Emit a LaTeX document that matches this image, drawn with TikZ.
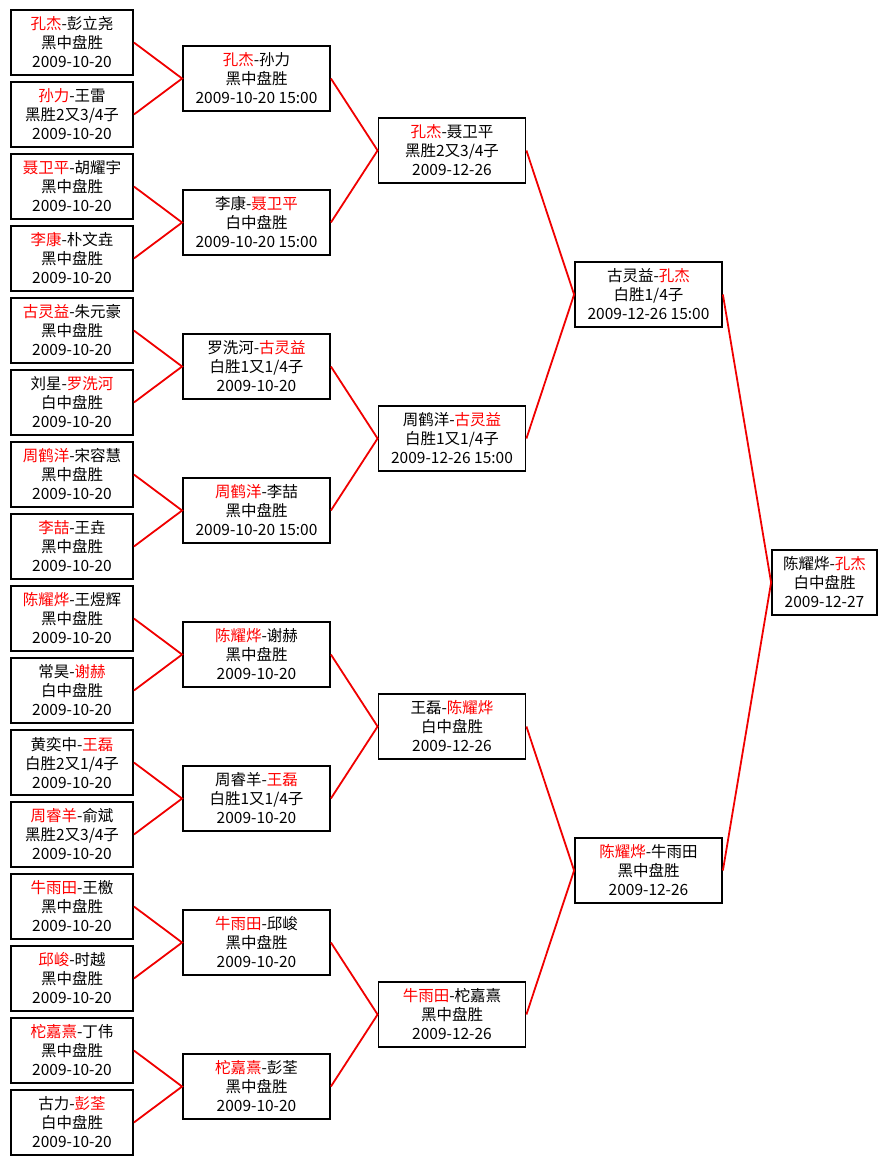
\documentclass[tikz,border=0pt]{standalone}
\usepackage{xcolor}
\usepackage{fontspec}
\setmainfont{Noto Sans CJK SC}
\usepackage{tikz}
\usetikzlibrary{positioning}
\definecolor{winred}{HTML}{FF0000}
\definecolor{linkred}{HTML}{F00000}
\newcommand{\win}[1]{\textcolor{winred}{#1}}

\begin{document}
\begin{tikzpicture}[
  x=1pt, y=-1pt,
  box/.style={draw=black, fill=white, line width=1.8pt, inner sep=0pt, align=center, minimum height=65pt, font=\fontsize{15.5}{19}\selectfont},
  pair/.style={box, minimum width=122pt},
  game/.style={box, minimum width=147pt},
  champ/.style={box, minimum width=105pt},
  link/.style={draw=linkred, line width=1.8pt}
]
\path[use as bounding box, fill=white] (0,0) rectangle (887,1165);

% first round
\node[pair] (a1)  at (72,42.5)   {\win{孔杰}-彭立尧\\黑中盘胜\\2009-10-20};
\node[pair] (a2)  at (72,114.5)  {\win{孙力}-王雷\\黑胜2又3/4子\\2009-10-20};
\node[pair] (a3)  at (72,186.5)  {\win{聂卫平}-胡耀宇\\黑中盘胜\\2009-10-20};
\node[pair] (a4)  at (72,258.5)  {\win{李康}-朴文垚\\黑中盘胜\\2009-10-20};
\node[pair] (a5)  at (72,330.5)  {\win{古灵益}-朱元豪\\黑中盘胜\\2009-10-20};
\node[pair] (a6)  at (72,402.5)  {刘星-\win{罗洗河}\\白中盘胜\\2009-10-20};
\node[pair] (a7)  at (72,474.5)  {\win{周鹤洋}-宋容慧\\黑中盘胜\\2009-10-20};
\node[pair] (a8)  at (72,546.5)  {\win{李喆}-王垚\\黑中盘胜\\2009-10-20};
\node[pair] (a9)  at (72,618.5)  {\win{陈耀烨}-王煜辉\\黑中盘胜\\2009-10-20};
\node[pair] (a10) at (72,690.5)  {常昊-\win{谢赫}\\白中盘胜\\2009-10-20};
\node[pair] (a11) at (72,762.5)  {黄奕中-\win{王磊}\\白胜2又1/4子\\2009-10-20};
\node[pair] (a12) at (72,834.5)  {\win{周睿羊}-俞斌\\黑胜2又3/4子\\2009-10-20};
\node[pair] (a13) at (72,906.5)  {\win{牛雨田}-王檄\\黑中盘胜\\2009-10-20};
\node[pair] (a14) at (72,978.5)  {\win{邱峻}-时越\\黑中盘胜\\2009-10-20};
\node[pair] (a15) at (72,1050.5) {\win{柁嘉熹}-丁伟\\黑中盘胜\\2009-10-20};
\node[pair] (a16) at (72,1122.5) {古力-\win{彭荃}\\白中盘胜\\2009-10-20};

% second round
\node[game] (b1) at (256.5,78.5)   {\win{孔杰}-孙力\\黑中盘胜\\2009-10-20 15:00};
\node[game] (b2) at (256.5,222.5)  {李康-\win{聂卫平}\\白中盘胜\\2009-10-20 15:00};
\node[game] (b3) at (256.5,366.5)  {罗洗河-\win{古灵益}\\白胜1又1/4子\\2009-10-20};
\node[game] (b4) at (256.5,510.5)  {\win{周鹤洋}-李喆\\黑中盘胜\\2009-10-20 15:00};
\node[game] (b5) at (256.5,654.5)  {\win{陈耀烨}-谢赫\\黑中盘胜\\2009-10-20};
\node[game] (b6) at (256.5,798.5)  {周睿羊-\win{王磊}\\白胜1又1/4子\\2009-10-20};
\node[game] (b7) at (256.5,942.5)  {\win{牛雨田}-邱峻\\黑中盘胜\\2009-10-20};
\node[game] (b8) at (256.5,1086.5) {\win{柁嘉熹}-彭荃\\黑中盘胜\\2009-10-20};

% quarter and semi
\node[game] (c1) at (452,150.5) {\win{孔杰}-聂卫平\\黑胜2又3/4子\\2009-12-26};
\node[game] (c2) at (452,438.5) {周鹤洋-\win{古灵益}\\白胜1又1/4子\\2009-12-26 15:00};
\node[game] (c3) at (452,726.5) {王磊-\win{陈耀烨}\\白中盘胜\\2009-12-26};
\node[game] (c4) at (452,1014.5) {\win{牛雨田}-柁嘉熹\\黑中盘胜\\2009-12-26};

\node[game] (d1) at (648.5,294.5) {古灵益-\win{孔杰}\\白胜1/4子\\2009-12-26 15:00};
\node[game] (d2) at (648.5,870.5) {\win{陈耀烨}-牛雨田\\黑中盘胜\\2009-12-26};

\node[champ] (top) at (824.5,582.5) {陈耀烨-\win{孔杰}\\白中盘胜\\2009-12-27};

% links
\draw[link] (a1.east) -- (b1.west) -- (a2.east);
\draw[link] (a3.east) -- (b2.west) -- (a4.east);
\draw[link] (a5.east) -- (b3.west) -- (a6.east);
\draw[link] (a7.east) -- (b4.west) -- (a8.east);
\draw[link] (a9.east) -- (b5.west) -- (a10.east);
\draw[link] (a11.east) -- (b6.west) -- (a12.east);
\draw[link] (a13.east) -- (b7.west) -- (a14.east);
\draw[link] (a15.east) -- (b8.west) -- (a16.east);
\draw[link] (b1.east) -- (c1.west) -- (b2.east);
\draw[link] (b3.east) -- (c2.west) -- (b4.east);
\draw[link] (b5.east) -- (c3.west) -- (b6.east);
\draw[link] (b7.east) -- (c4.west) -- (b8.east);
\draw[link] (c1.east) -- (d1.west) -- (c2.east);
\draw[link] (c3.east) -- (d2.west) -- (c4.east);
\draw[link] (d1.east) -- (top.west) -- (d2.east);
\end{tikzpicture}
\end{document}
